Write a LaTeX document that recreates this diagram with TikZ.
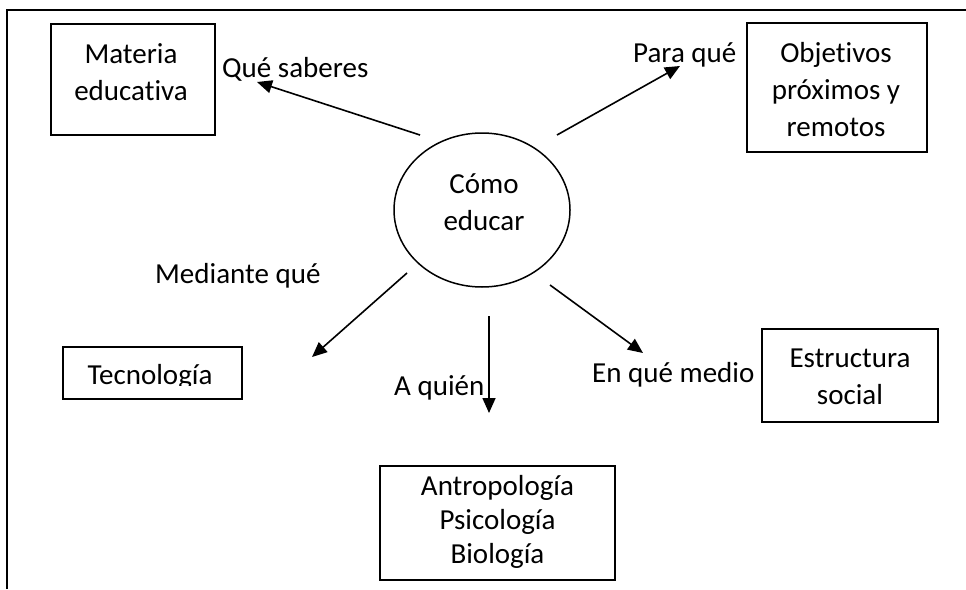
\documentclass[tikz,border=0pt]{standalone}
\usepackage{fontspec}
\setmainfont[Ligatures=NoCommon]{Carlito}
\usetikzlibrary{arrows.meta,shapes.geometric}
\newcommand\mlines[1]{\begin{tabular}[t]{@{}c@{}}#1\end{tabular}}
\tikzset{
  boxnode/.style={draw, line width=1.5pt, inner sep=0pt},
  txt/.style={inner sep=0pt, anchor=base},
  arr/.style={line width=1.6pt, -{Triangle[length=15pt,width=13pt]}},
}
\begin{document}
\begin{tikzpicture}[x=1pt,y=-1pt,font=\fontsize{29pt}{37pt}\selectfont]
\useasboundingbox (0,0) rectangle (966,589);
% frame
\draw[line width=2.2pt] (7,589) -- (7,10) -- (966,10);
% boxes
\node[boxnode, minimum width=164pt, minimum height=111pt] (mat) at (133,79.5) {};
\node[txt] (matT) at (131,63) {\mlines{Materia\\educativa}};
\node[boxnode, minimum width=180pt, minimum height=129pt] (obj) at (837,87.5) {};
\node[txt] (objT) at (836,62) {\mlines{Objetivos\\próximos y\\remotos}};
\node[draw, ellipse, line width=1.5pt, inner sep=0pt, minimum width=176pt, minimum height=154pt] (como) at (482,210) {};
\node[txt] (comoT) at (484,193) {\mlines{Cómo\\educar}};
\node[boxnode, minimum width=176pt, minimum height=93pt] (est) at (850,375.5) {};
\node[txt] (estT) at (850,367) {\mlines{Estructura\\social}};
\node[boxnode, minimum width=235pt, minimum height=114pt] (ant) at (497.5,523) {};
\node[txt, font=\fontsize{29pt}{34pt}\selectfont] (antT) at (497.5,495) {\mlines{Antropología\\Psicología\\Biología}};
\node[boxnode, minimum width=179pt, minimum height=52pt] (tec) at (152.5,373) {};
\begin{scope}
\clip (63,347) rectangle (242,385.5);
\node[txt] (tecT) at (150,384) {Tecnología};
\end{scope}
% labels
\node[txt, anchor=base west] (l1) at (222,77) {Qué saberes};
\node[txt, anchor=base west] (l2) at (633,62) {Para qué};
\node[txt, anchor=base west] (l3) at (155,283) {Mediante qué};
\node[txt, anchor=base west] (l4) at (394,395) {A quién};
\node[txt, anchor=base west] (l5) at (592,382) {En qué medio};
% arrow end points
\coordinate (a1s) at (420,135); \coordinate (a1e) at (257,82);
\coordinate (a2s) at (557,135); \coordinate (a2e) at (680,66);
\coordinate (a3s) at (407,273); \coordinate (a3e) at (312,357);
\coordinate (a4s) at (489,316); \coordinate (a4e) at (489,413);
\coordinate (a5s) at (550,285); \coordinate (a5e) at (643,353);
\draw[arr] (a1s) -- (a1e);
\draw[arr] (a2s) -- (a2e);
\draw[arr] (a3s) -- (a3e);
\draw[arr] (a4s) -- (a4e);
\draw[arr] (a5s) -- (a5e);
\end{tikzpicture}
\end{document}
